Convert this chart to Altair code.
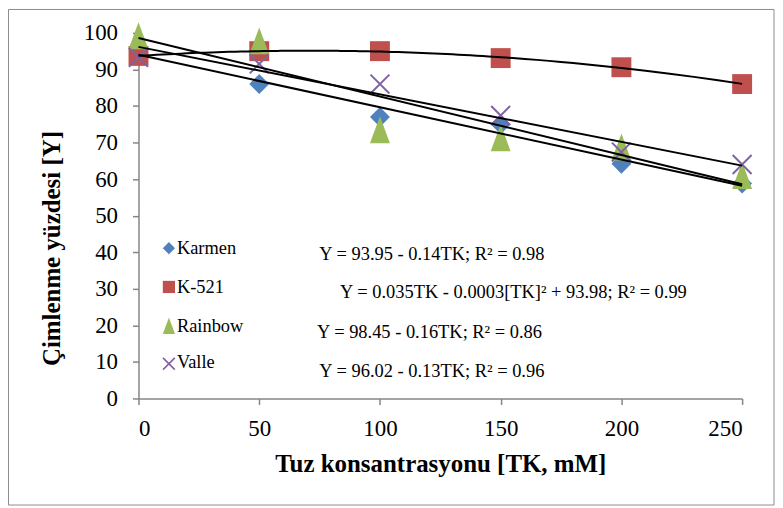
import altair as alt
import pandas as pd

# ---- data ----
conc = [0, 50, 100, 150, 200, 250]
series_names = ["Karmen", "K-521", "Rainbow", "Valle"]
karmen = [95.5, 86, 77, 75, 64.2, 58.8]
k521 = [93.7, 95, 95, 93.1, 90.6, 86]
rainbow = [99.2, 97.8, 73.5, 71.3, 68.8, 61]
valle = [93.3, 91.5, 86, 77.4, 67.4, 64]
equations = [
    "Y = 93.95 - 0.14TK; R² = 0.98",
    "Y = 0.035TK - 0.0003[TK]² + 93.98; R² = 0.99",
    "Y = 98.45 - 0.16TK; R² = 0.86",
    "Y = 96.02 - 0.13TK; R² = 0.96",
]
x_ticks = [0, 50, 100, 150, 200, 250]
y_ticks = [0, 10, 20, 30, 40, 50, 60, 70, 80, 90, 100]

# ---- styles / layout ----
colors = ["#4F81BD", "#C0504D", "#9BBB59", "#8064A2"]
shapes = ["diamond", "square", "M0,-1.35L1,1.35L-1,1.35Z", "M-1,-1L1,1M-1,1L1,-1"]
leg_marker_x = 12.6
leg_marker_y = [41.1, 30.5, 19.9, 9.5]
leg_text_x = 15.9
leg_text_y = [39.5, 28.9, 18.3, 8.2]
eq_x = [121.5, 155.3, 120.5, 121.5]
eq_y = [37.9, 27.4, 16.6, 6.0]
FONT = "Liberation Serif"

rows = []
for name, vals in zip(series_names, [karmen, k521, rainbow, valle]):
    for c, v in zip(conc, vals):
        rows.append({"series": name, "conc": c, "y": v})
df = pd.DataFrame(rows)

leg_df = pd.DataFrame({
    "series": series_names,
    "mx": [leg_marker_x] * 4,
    "my": leg_marker_y,
    "tx": [leg_text_x] * 4,
    "ty": leg_text_y,
})
eq_df = pd.DataFrame({"label": equations, "ex": eq_x, "ey": eq_y})

xscale = alt.Scale(domain=[0, 250], nice=False)
yscale = alt.Scale(domain=[0, 100], nice=False)
color = alt.Color("series:N", scale=alt.Scale(domain=series_names, range=colors), legend=None)
shape = alt.Shape("series:N", scale=alt.Scale(domain=series_names, range=shapes), legend=None)

xaxis = alt.Axis(values=x_ticks, title="Tuz konsantrasyonu [TK, mM]", grid=False,
                 titleX=303, titleY=73, titleBaseline="alphabetic", titleAlign="center",
                 labelPadding=13, labelOverlap=False, tickCount=6)
yaxis = alt.Axis(values=y_ticks, title="Çimlenme yüzdesi [Y]", grid=False,
                 titleAngle=270, titleX=-79.5, titleY=216, titleBaseline="alphabetic",
                 titleAlign="center", labelPadding=15, labelOverlap=False, tickCount=11)


def X(field):
    return alt.X(field, type="quantitative", scale=xscale, axis=xaxis)


def Y(field):
    return alt.Y(field, type="quantitative", scale=yscale, axis=yaxis)


base = alt.Chart(df)

pts_filled = base.transform_filter(alt.datum.series != "Valle").mark_point(
    filled=True, size=400, opacity=1
).encode(x=X("conc"), y=Y("y"), color=color, shape=shape)

pts_open = base.transform_filter(alt.datum.series == "Valle").mark_point(
    filled=False, size=361, strokeWidth=2, opacity=1
).encode(x=X("conc"), y=Y("y"), color=color, shape=shape)

lin = base.transform_filter(alt.datum.series != "K-521").transform_regression(
    "conc", "y", groupby=["series"], extent=[0, 250]
).mark_line(color="black", strokeWidth=2).encode(
    x=X("conc"), y=Y("y"), detail="series:N"
)
poly = base.transform_filter(alt.datum.series == "K-521").transform_regression(
    "conc", "y", method="poly", order=2, extent=[0, 250]
).mark_line(color="black", strokeWidth=2).encode(x=X("conc"), y=Y("y"))

leg_base = alt.Chart(leg_df)
leg_filled = leg_base.transform_filter(alt.datum.series != "Valle").mark_point(
    filled=True, size=150, opacity=1
).encode(x=X("mx"), y=Y("my"), color=color, shape=shape)
leg_open = leg_base.transform_filter(alt.datum.series == "Valle").mark_point(
    filled=False, size=140, strokeWidth=1.6, opacity=1
).encode(x=X("mx"), y=Y("my"), color=color, shape=shape)
leg_text = leg_base.mark_text(
    align="left", baseline="alphabetic", font=FONT, fontSize=18.5, color="black"
).encode(x=X("tx"), y=Y("ty"), text="series:N")

eq_text = alt.Chart(eq_df).mark_text(
    align="center", baseline="alphabetic", font=FONT, fontSize=18.5, color="black"
).encode(x=X("ex"), y=Y("ey"), text="label:N")

border = alt.Chart(pd.DataFrame({"a": [0]})).mark_rect(
    filled=False, stroke="#8c8c8c", strokeWidth=1
).encode(
    x=alt.value(-130.5), x2=alt.value(638), y=alt.value(-23.5), y2=alt.value(474)
)

chart = alt.layer(
    pts_filled, pts_open, lin, poly, leg_filled, leg_open, leg_text, eq_text, border
).properties(
    width=606, height=367,
    autosize=alt.AutoSizeParams(type="none"),
    padding={"left": 131, "top": 24, "right": 33, "bottom": 108},
    background="white",
).configure_view(stroke=None).configure_axis(
    domainColor="#868686", domainWidth=1.5, tickColor="#868686", tickWidth=1.5,
    tickSize=6, labelFont=FONT, labelFontSize=23, labelColor="black",
    titleFont=FONT, titleFontSize=25, titleFontWeight="bold", titleColor="black",
)

chart.save("out.html", embed_options={"renderer": "svg", "actions": False})
